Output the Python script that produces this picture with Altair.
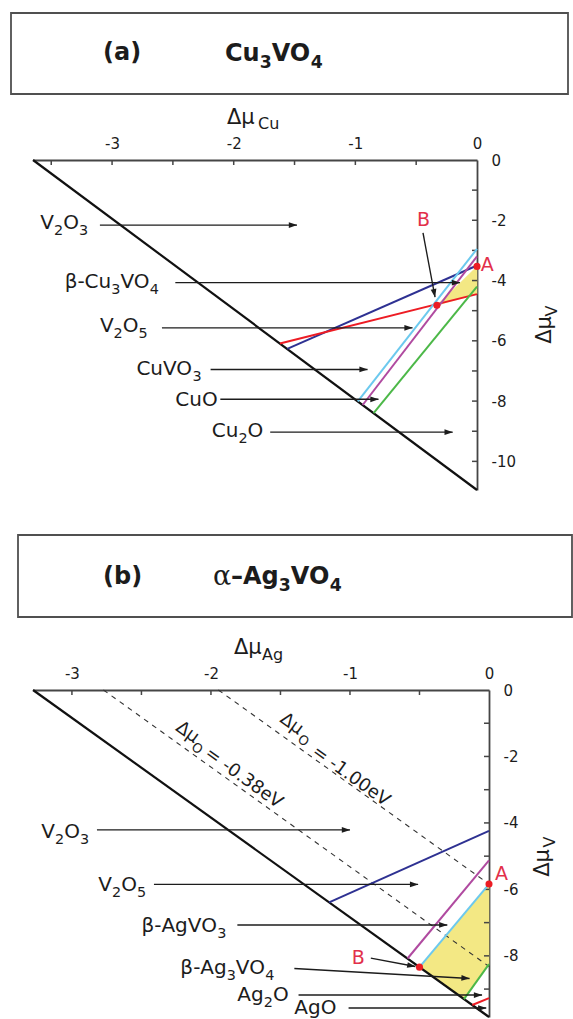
import math
import altair as alt
import pandas as pd

FONT = "DejaVu Sans"
SERIF = "DejaVu Serif"
INK = "#1c1c1c"
FRAME = "#454545"
BOX = "#505050"
FILL = "#f3e884"
DOT = "#ec1c24"
TAG = "#e2304a"
SEG_DOMAIN = ["navy", "red", "magenta", "cyan", "green"]
SEG_RANGE = ["#2e3192", "#ed1c24", "#b04aa0", "#6cc9ee", "#4cb848"]
HEAD = "M0,-1L0.55,0.6L-0.55,0.6Z"

# advance widths (em) of DejaVu Sans glyphs used in the formulas
ADV = {"V": .684, "O": .787, "C": .698, "u": .634, "A": .684, "g": .635,
       "β": .637, "-": .361, "–": .5, "digit": .636}
ADV_BOLD = {"V": .774, "O": .850, "C": .732, "u": .712, "A": .774, "g": .716,
            "β": .700, "-": .415, "–": .5, "digit": .696}
SUB_SCALE = 0.72
SUB_DROP = 0.30

# ---------------- (a) Cu3VO4 ----------------
a_dH = -10.95
a_xticks = [-3.5, -3.0, -2.5, -2.0, -1.5, -1.0, -0.5]
a_xlabels = [-3, -2, -1, 0]
a_yticks = [-1, -2, -3, -4, -5, -6, -7, -8, -9, -10]
a_ylabels = [0, -2, -4, -6, -8, -10]

a_seg = ["navy", "red", "magenta", "cyan", "green"]
a_seg_x1 = [-1.56, -1.62, -0.94, -0.98, -0.85]
a_seg_y1 = [-6.27, -6.09, -8.13, -8.01, -8.40]
a_seg_x2 = [0.0, 0.0, 0.0, 0.0, 0.0]
a_seg_y2 = [-3.50, -4.45, -3.20, -2.95, -4.20]

a_fill_x = [-0.33, 0.0, 0.0]
a_fill_y = [-4.82, -3.53, -4.45]

a_phase = ["V2O3", "β-Cu3VO4", "V2O5", "CuVO3", "CuO", "Cu2O"]
a_phase_x = [-3.59, -3.39, -3.10, -2.80, -2.48, -2.18]
a_phase_y = [-2.10, -4.05, -5.52, -6.93, -7.95, -9.00]

a_arrow_x1 = [-3.10, -2.48, -2.59, -2.19, -2.11, -1.70, -0.444]
a_arrow_y1 = [-2.16, -4.07, -5.57, -6.95, -7.94, -9.03, -2.42]
a_arrow_x2 = [-1.48, -0.14, -0.53, -0.90, -0.81, -0.20, -0.345]
a_arrow_y2 = [-2.16, -4.07, -5.57, -6.95, -7.94, -9.03, -4.55]

a_pt = ["A", "B"]
a_pt_x = [0.0, -0.33]
a_pt_y = [-3.53, -4.82]
a_tag_x = [0.085, -0.44]
a_tag_y = [-3.50, -1.99]

# ---------------- (b) alpha-Ag3VO4 ----------------
b_dH = -9.84
b_xticks = [-3.0, -2.5, -2.0, -1.5, -1.0, -0.5]
b_xlabels = [-3, -2, -1, 0]
b_yticks = [-1, -2, -3, -4, -5, -6, -7, -8, -9]
b_ylabels = [0, -2, -4, -6, -8]

b_muO = [-0.38, -1.00]
b_muO_head = ["Δμ", "Δμ"]
b_muO_head_x = [-2.17, -1.42]
b_muO_head_y = [-1.28, -1.03]
b_muO_sub = ["O", "O"]
b_muO_sub_x = [-2.10, -1.336]
b_muO_sub_y = [-1.76, -1.53]
b_muO_tail = ["= -0.38eV", "= -1.00eV"]
b_muO_tail_x = [-2.03, -1.26]
b_muO_tail_y = [-1.86, -1.80]

b_seg = ["navy", "magenta", "cyan", "green", "red"]
b_seg_x1 = [-1.15, -0.586, -0.50, -0.18, -0.12]
b_seg_y1 = [-6.39, -8.08, -8.34, -9.30, -9.48]
b_seg_x2 = [0.0, 0.0, 0.0, 0.0, 0.0]
b_seg_y2 = [-4.24, -5.13, -5.84, -8.25, -9.27]

b_fill_x = [-0.50, 0.0, 0.0, -0.18]
b_fill_y = [-8.34, -5.84, -8.25, -9.30]

b_phase = ["V2O3", "V2O5", "β-AgVO3", "β-Ag3VO4", "Ag2O", "AgO"]
b_phase_x = [-3.22, -2.81, -2.50, -2.22, -1.81, -1.40]
b_phase_y = [-4.26, -5.87, -7.09, -8.37, -9.18, -9.57]

b_arrow_x1 = [-2.82, -2.41, -1.81, -1.40, -1.37, -1.01, -0.85]
b_arrow_y1 = [-4.21, -5.85, -7.07, -8.38, -9.18, -9.57, -8.07]
b_arrow_x2 = [-1.00, -0.51, -0.30, -0.14, -0.05, -0.02, -0.53]
b_arrow_y2 = [-4.21, -5.85, -7.07, -8.68, -9.18, -9.57, -8.32]

b_pt = ["A", "B"]
b_pt_x = [0.0, -0.50]
b_pt_y = [-5.84, -8.34]
b_tag_x = [0.09, -0.94]
b_tag_y = [-5.55, -8.07]

ONE = pd.DataFrame({"k": [0]})


def split_runs(label, size, bold=False):
    """Split a chemical formula into normal / subscript runs with pixel offsets."""
    table = ADV_BOLD if bold else ADV
    runs, cur, cur_sub, start, x = [], "", False, 0.0, 0.0
    for ch in label:
        sub = ch.isdigit()
        if cur and sub != cur_sub:
            runs.append((cur, cur_sub, start))
            cur = ""
        if not cur:
            start, cur_sub = x, sub
        cur += ch
        x += (table["digit"] * SUB_SCALE if sub else table.get(ch, .65)) * size
    if cur:
        runs.append((cur, cur_sub, start))
    return runs


def px_text(s, x, y, size, weight="normal", font=FONT, align="left", angle=0,
            color=INK, baseline="middle"):
    return alt.Chart(ONE).mark_text(
        text=s, fontSize=size, fontWeight=weight, font=font, align=align,
        baseline=baseline, angle=angle, color=color,
    ).encode(x=alt.value(x), y=alt.value(y))


def px_formula(label, x, y, size, bold=True):
    out = []
    w = "bold" if bold else "normal"
    for t, sub, dx in split_runs(label, size, bold):
        if sub:
            out.append(px_text(t, x + dx, y + (0.30 + SUB_DROP) * size, size * SUB_SCALE,
                               w, baseline="alphabetic"))
        else:
            out.append(px_text(t, x + dx, y, size, w))
    return out


def build_panel(p):
    W, H = p["W"], p["H"]
    xmin, ymin = p["dH"] / 3.0, p["dH"]
    xs = alt.Scale(domain=[xmin, 0], nice=False, zero=False)
    ys = alt.Scale(domain=[ymin, 0], nice=False, zero=False)
    sx, sy = W / -xmin, H / -ymin

    x_axis = alt.Axis(
        orient="top", values=p["xlabels"], labelExpr="'' + datum.value",
        ticks=False, grid=False, domainColor=FRAME, domainWidth=1.8,
        labelFont=FONT, labelFontSize=15, labelColor=INK, labelPadding=9,
        labelFlush=False, labelOverlap=False, title="")
    y_axis = alt.Axis(
        orient="right", values=p["ylabels"], labelExpr="'' + datum.value",
        ticks=False, grid=False, domainColor=FRAME, domainWidth=1.8,
        labelFont=FONT, labelFontSize=15, labelColor=INK, labelPadding=14,
        labelAlign="left", labelBaseline="middle", labelFlush=False,
        labelOverlap=False, title="")

    def ex(f="x"):
        return alt.X(f"{f}:Q", scale=xs, axis=x_axis)

    def ey(f="y"):
        return alt.Y(f"{f}:Q", scale=ys, axis=y_axis)

    layers = []

    # shaded stability region
    fdf = pd.DataFrame({"x": p["fill_x"], "y": p["fill_y"], "i": list(range(len(p["fill_x"])))})
    layers.append(
        alt.Chart(fdf).mark_line(fill=FILL, color=FILL, strokeWidth=0.5, interpolate="linear-closed")
        .encode(x=ex(), y=ey(), order=alt.Order("i:Q"))
    )

    # constant oxygen chemical potential lines: 3x + y = dH - 4*muO
    if p.get("muO"):
        c = [p["dH"] - 4.0 * m for m in p["muO"]]
        ddf = pd.DataFrame({"x1": [v / 3.0 for v in c], "y1": [0.0] * len(c),
                            "x2": [0.0] * len(c), "y2": c})
        layers.append(
            alt.Chart(ddf).mark_rule(color="#333333", strokeWidth=1.1, strokeDash=[5, 5])
            .encode(x=ex("x1"), y=ey("y1"), x2="x2:Q", y2="y2:Q")
        )

    # Δμ_O = 0 boundary
    diag = pd.DataFrame({"x": [xmin, 0.0], "y": [0.0, ymin]})
    layers.append(
        alt.Chart(diag).mark_line(color="#111111", strokeWidth=2.2).encode(x=ex(), y=ey())
    )

    # inward ticks
    layers.append(
        alt.Chart(pd.DataFrame({"t": p["xticks"]})).mark_rule(color=FRAME, strokeWidth=1.5)
        .encode(x=ex("t"), y=alt.value(0), y2=alt.value(5))
    )
    layers.append(
        alt.Chart(pd.DataFrame({"t": p["yticks"]})).mark_rule(color=FRAME, strokeWidth=1.5)
        .encode(y=ey("t"), x=alt.value(W - 5), x2=alt.value(W))
    )

    # phase boundaries
    sdf = pd.DataFrame({"name": p["seg"], "x1": p["seg_x1"], "y1": p["seg_y1"],
                        "x2": p["seg_x2"], "y2": p["seg_y2"]})
    layers.append(
        alt.Chart(sdf).mark_rule(strokeWidth=2).encode(
            x=ex("x1"), y=ey("y1"), x2="x2:Q", y2="y2:Q",
            color=alt.Color("name:N", scale=alt.Scale(domain=SEG_DOMAIN, range=SEG_RANGE), legend=None),
        )
    )

    # arrows
    adf = pd.DataFrame({"x1": p["ax1"], "y1": p["ay1"], "x2": p["ax2"], "y2": p["ay2"]})
    layers.append(
        alt.Chart(adf).mark_rule(color=INK, strokeWidth=1.4)
        .encode(x=ex("x1"), y=ey("y1"), x2="x2:Q", y2="y2:Q")
    )
    hx, hy, ha = [], [], []
    back = 5.0
    for x1, y1, x2, y2 in zip(p["ax1"], p["ay1"], p["ax2"], p["ay2"]):
        dxs, dys = (x2 - x1) * sx, -(y2 - y1) * sy
        L = math.hypot(dxs, dys)
        hx.append(x2 - back * dxs / L / sx)
        hy.append(y2 + back * dys / L / sy)
        ha.append(math.degrees(math.atan2(dxs, -dys)) % 360)
    hdf = pd.DataFrame({"x": hx, "y": hy, "ang": ha})
    layers.append(
        alt.Chart(hdf).mark_point(shape=HEAD, size=110, filled=True, color=INK, opacity=1)
        .encode(x=ex(), y=ey(), angle=alt.Angle("ang:Q", scale=None))
    )

    # phase labels, digits set as subscripts
    size = 20
    main_rows, sub_rows = [], []
    for lab, x0, y0 in zip(p["phase"], p["phase_x"], p["phase_y"]):
        for t, sub, dx in split_runs(lab, size):
            if sub:
                sub_rows.append({"t": t, "x": x0 + dx / sx,
                                 "y": y0 - (0.30 + SUB_DROP) * size / sy})
            else:
                main_rows.append({"t": t, "x": x0 + dx / sx, "y": y0})
    layers.append(
        alt.Chart(pd.DataFrame(main_rows)).mark_text(
            font=FONT, fontSize=size, align="left", baseline="middle", color=INK)
        .encode(x=ex(), y=ey(), text="t:N")
    )
    layers.append(
        alt.Chart(pd.DataFrame(sub_rows)).mark_text(
            font=FONT, fontSize=size * SUB_SCALE, align="left", baseline="alphabetic", color=INK)
        .encode(x=ex(), y=ey(), text="t:N")
    )

    # oxygen-line annotations
    if p.get("muO"):
        ang = math.degrees(math.atan2(3 * sy, sx))
        for key, fsize, align in (("muO_head", 18, "center"), ("muO_sub", 13, "center"),
                                  ("muO_tail", 18, "left")):
            mdf = pd.DataFrame({"t": p[key], "x": p[key + "_x"], "y": p[key + "_y"]})
            layers.append(
                alt.Chart(mdf).mark_text(font=FONT, fontSize=fsize, align=align, baseline="middle",
                                         color=INK, angle=ang)
                .encode(x=ex(), y=ey(), text="t:N")
            )

    # special points A and B
    pdf = pd.DataFrame({"n": p["pt"], "x": p["pt_x"], "y": p["pt_y"]})
    layers.append(
        alt.Chart(pdf).mark_circle(size=50, color=DOT, opacity=1).encode(x=ex(), y=ey())
    )
    tdf = pd.DataFrame({"n": p["pt"], "x": p["tag_x"], "y": p["tag_y"]})
    layers.append(
        alt.Chart(tdf).mark_text(font=FONT, fontSize=19, align="center", baseline="middle", color=TAG)
        .encode(x=ex(), y=ey(), text="n:N")
    )

    # framed heading above the diagram
    bx1, bx2, by1, by2 = p["box"]
    layers.append(
        alt.Chart(ONE).mark_rect(fill="transparent", stroke=BOX, strokeWidth=1.8)
        .encode(x=alt.value(bx1), x2=alt.value(bx2), y=alt.value(by1), y2=alt.value(by2))
    )
    for item in p["heading"]:
        layers.append(px_text(*item))
    layers.extend(px_formula(*p["heading_formula"]))

    # axis titles
    for item in p["titles"]:
        layers.append(px_text(*item))

    return alt.layer(*layers).properties(width=W, height=H)


panel_a = build_panel({
    "W": 444, "H": 330, "dH": a_dH,
    "xticks": a_xticks, "xlabels": a_xlabels, "yticks": a_yticks, "ylabels": a_ylabels,
    "seg": a_seg, "seg_x1": a_seg_x1, "seg_y1": a_seg_y1, "seg_x2": a_seg_x2, "seg_y2": a_seg_y2,
    "fill_x": a_fill_x, "fill_y": a_fill_y,
    "phase": a_phase, "phase_x": a_phase_x, "phase_y": a_phase_y,
    "ax1": a_arrow_x1, "ay1": a_arrow_y1, "ax2": a_arrow_x2, "ay2": a_arrow_y2,
    "pt": a_pt, "pt_x": a_pt_x, "pt_y": a_pt_y, "tag_x": a_tag_x, "tag_y": a_tag_y,
    "box": (-22, 535, -147, -66),
    "heading": [
        ("(a)", 70, -107, 24, "bold"),
    ],
    "heading_formula": ("Cu3VO4", 192, -106, 24),
    "titles": [
        ("Δμ", 194, -42, 21),
        ("Cu", 225, -36, 16),
        ("Δμ", 512, 170, 21, "normal", FONT, "center", 270),
        ("V", 519, 151, 16, "normal", FONT, "center", 270),
    ],
})

panel_b = build_panel({
    "W": 456, "H": 327, "dH": b_dH,
    "xticks": b_xticks, "xlabels": b_xlabels, "yticks": b_yticks, "ylabels": b_ylabels,
    "muO": b_muO,
    "muO_head": b_muO_head, "muO_head_x": b_muO_head_x, "muO_head_y": b_muO_head_y,
    "muO_sub": b_muO_sub, "muO_sub_x": b_muO_sub_x, "muO_sub_y": b_muO_sub_y,
    "muO_tail": b_muO_tail, "muO_tail_x": b_muO_tail_x, "muO_tail_y": b_muO_tail_y,
    "seg": b_seg, "seg_x1": b_seg_x1, "seg_y1": b_seg_y1, "seg_x2": b_seg_x2, "seg_y2": b_seg_y2,
    "fill_x": b_fill_x, "fill_y": b_fill_y,
    "phase": b_phase, "phase_x": b_phase_x, "phase_y": b_phase_y,
    "ax1": b_arrow_x1, "ay1": b_arrow_y1, "ax2": b_arrow_x2, "ay2": b_arrow_y2,
    "pt": b_pt, "pt_x": b_pt_x, "pt_y": b_pt_y, "tag_x": b_tag_x, "tag_y": b_tag_y,
    "box": (-15, 539, -155, -73),
    "heading": [
        ("(b)", 70, -113, 24, "bold"),
        ("α", 180, -113, 27, "normal", SERIF),
    ],
    "heading_formula": ("–Ag3VO4", 198, -113, 24),
    "titles": [
        ("Δμ", 201, -42, 21),
        ("Ag", 229, -35, 16),
        ("Δμ", 510, 173, 21, "normal", FONT, "center", 270),
        ("V", 517, 152, 16, "normal", FONT, "center", 270),
    ],
})

chart = (
    alt.vconcat(panel_a, panel_b, spacing=200, bounds="flush")
    .properties(padding={"left": 10, "top": 12, "right": 0, "bottom": 0}, background="white")
    .configure_view(strokeWidth=0)
)

chart.save("out.html", embed_options={"renderer": "svg", "actions": False})
